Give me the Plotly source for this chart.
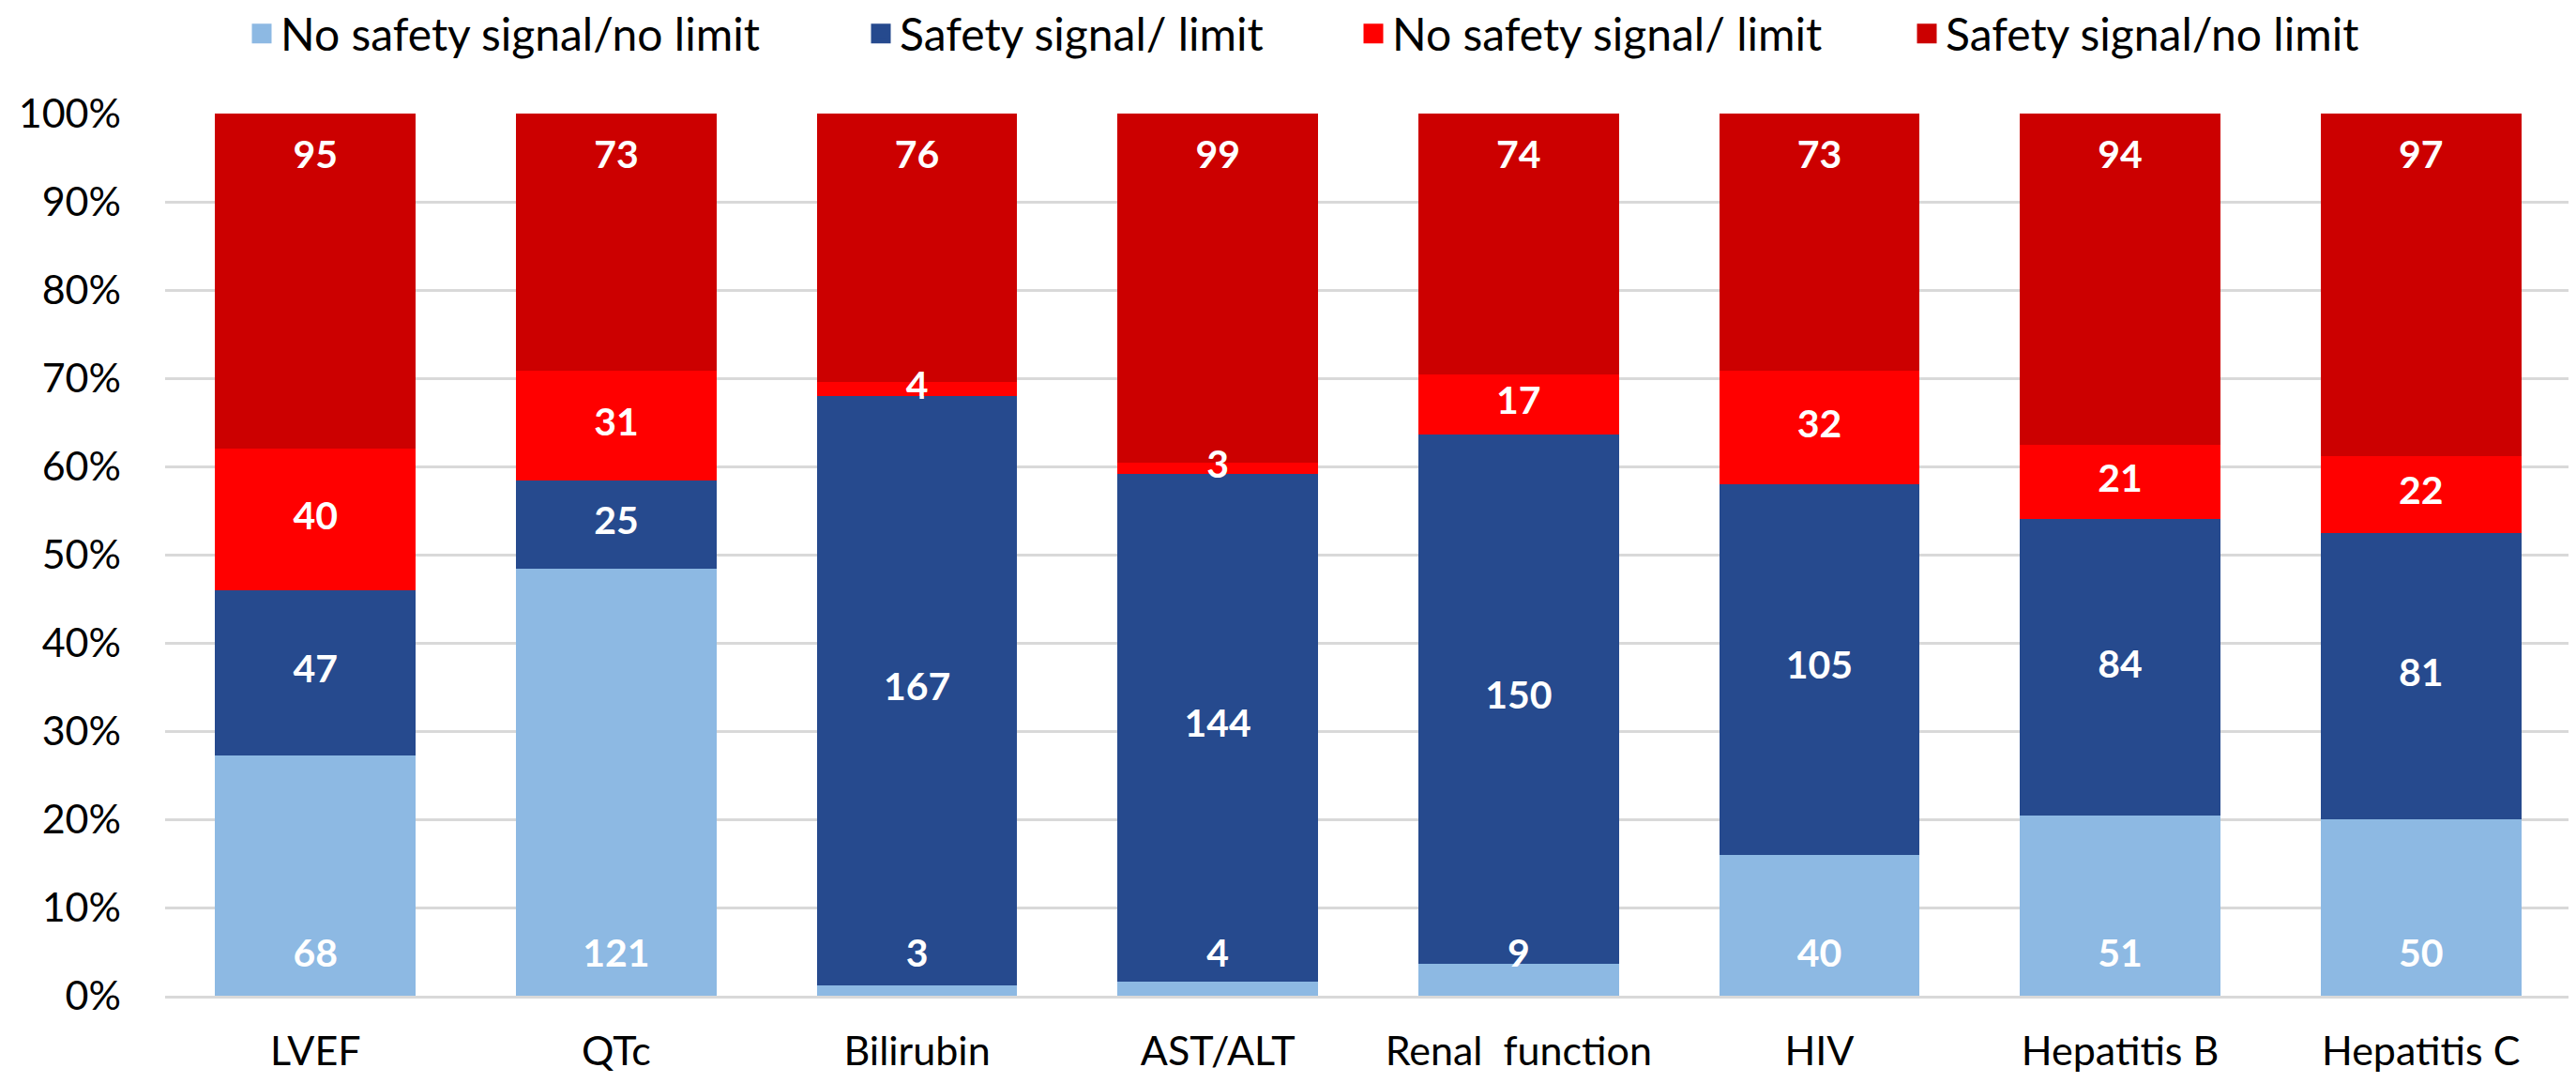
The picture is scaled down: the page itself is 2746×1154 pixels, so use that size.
import plotly.graph_objects as go

categories = ["LVEF", "QTc", "Bilirubin", "AST/ALT", "Renal  function", "HIV", "Hepatitis B", "Hepatitis C"]
series_names = ["No safety signal/no limit", "Safety signal/ limit", "No safety signal/ limit", "Safety signal/no limit"]
no_signal_no_limit = [68, 121, 3, 4, 9, 40, 51, 50]
signal_limit = [47, 25, 167, 144, 150, 105, 84, 81]
no_signal_limit = [40, 31, 4, 3, 17, 32, 21, 22]
signal_no_limit = [95, 73, 76, 99, 74, 73, 94, 97]
y_ticks = [0, 10, 20, 30, 40, 50, 60, 70, 80, 90, 100]
y_tick_labels = [f"{v}%" for v in y_ticks]

colors = ["#8DB9E3", "#264A8E", "#FF0000", "#CC0000"]
values = [no_signal_no_limit, signal_limit, no_signal_limit, signal_no_limit]
legend_ids = ["legend", "legend2", "legend3", "legend4"]
legend_x = [251, 911, 1436, 2026]

FONT = "Lato"
W, H = 2746, 1154
BASE_INSET = 4.4   # label inset (percent units) for "inside base"
END_INSET = 5.1    # label inset (percent units) for "inside end"

totals = [sum(col) for col in zip(*values)]

fig = go.Figure()
for name, vals, col in zip(series_names, values, colors):
    fig.add_trace(go.Bar(
        x=categories, y=vals, name=name, marker=dict(color=col, line=dict(width=0)),
        showlegend=False, hovertemplate="%{x}<br>" + name + ": %{customdata}<extra></extra>",
        customdata=vals,
    ))

cum = [0.0] * len(categories)
for i, vals in enumerate(values):
    pct = [v / t * 100 for v, t in zip(vals, totals)]
    lows = cum[:]
    highs = [a + b for a, b in zip(cum, pct)]
    if i == 0:
        ys = [lo + BASE_INSET for lo in lows]
    elif i == len(values) - 1:
        ys = [hi - END_INSET for hi in highs]
    else:
        ys = [(lo + hi) / 2 for lo, hi in zip(lows, highs)]
    fig.add_trace(go.Scatter(
        x=categories, y=ys, mode="text", text=[str(v) for v in vals],
        textposition="middle center",
        textfont=dict(family=FONT, size=41, color="white", weight="bold"),
        showlegend=False, hoverinfo="skip", cliponaxis=False,
    ))
    cum = highs

for name, col, lg in zip(series_names, colors, legend_ids):
    fig.add_trace(go.Scatter(
        x=[None], y=[None], mode="markers", name=name, legend=lg,
        marker=dict(symbol="square", size=16, color=col, line=dict(color=col, width=5)),
        showlegend=True, hoverinfo="skip",
    ))

layout_legends = {}
for lg, lx in zip(legend_ids, legend_x):
    layout_legends[lg] = dict(
        xref="container", yref="container", x=lx / W, y=1 - 28 / H,
        xanchor="left", yanchor="middle", orientation="h",
        font=dict(family=FONT, size=48, color="black"), bgcolor="rgba(0,0,0,0)",
        borderwidth=0, itemsizing="trace",
    )

fig.update_layout(
    width=W, height=H, barmode="stack", barnorm="percent", bargap=1/3,
    plot_bgcolor="white", paper_bgcolor="white",
    margin=dict(l=165, r=13, t=113, b=101),
    showlegend=True,
    font=dict(family=FONT, size=43, color="black"),
    **layout_legends,
)
fig.update_yaxes(
    range=[0, 100], tickvals=y_ticks, ticktext=y_tick_labels,
    showgrid=True, gridcolor="#D9D9D9", gridwidth=2.5,
    zeroline=False, showline=False, ticks="",
    tickfont=dict(family=FONT, size=43, color="black"), ticklabelstandoff=46,
)
fig.update_xaxes(
    showline=True, linecolor="#D9D9D9", linewidth=2.5, ticks="",
    tickfont=dict(family=FONT, size=43, color="black"), ticklabelstandoff=20,
)
fig.write_html("out.html")
